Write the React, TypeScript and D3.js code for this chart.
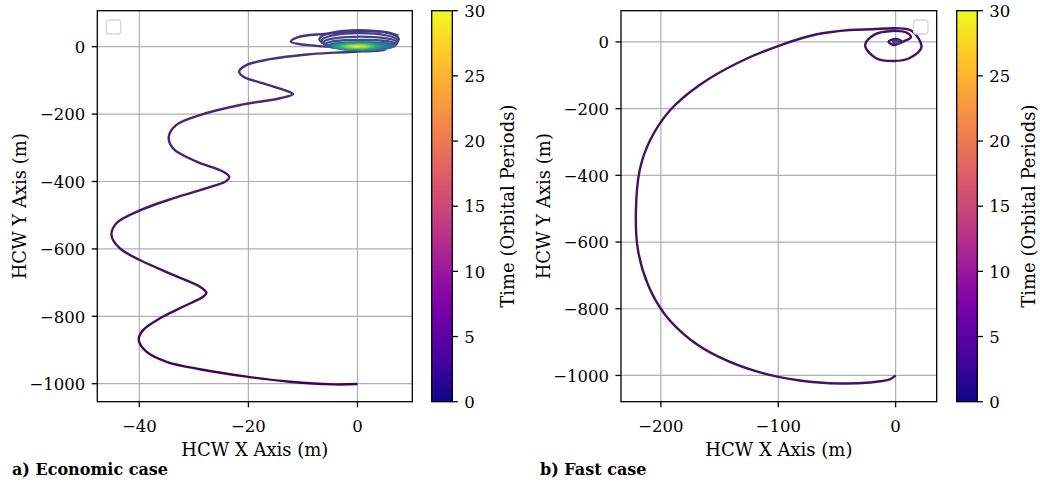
import React from 'react';
import * as d3 from 'd3';

// ---------- data ----------
const econX = [0, -4.4, -12.4, -20.3, -28.9, -35, -38.7, -40.1, -39.3, -36.2, -31.9, -28.3, -27.7, -28.9, -33.8, -39.9, -43.6, -45.1, -44.2, -40.5, -33.8, -27.7, -24, -23.5, -24.6, -29.5, -33.8, -34.6, -33.2, -28.9, -21.5, -14.2, -11.8, -13, -17.3, -20.9, -21.7, -20.3, -16, -9.3, -4, 1, 5, 4.5, -2, -8, -12.2, -11, -6, 0, 5, 7.5];
const econY = [-1001, -1002, -994, -979, -957, -935, -905, -870, -841, -806, -771, -742, -730, -712, -677, -633, -598, -559, -524, -490, -450, -420, -398, -386, -371, -341, -302, -267, -232, -203, -173, -153, -141, -131, -109, -89, -74, -54, -37, -23, -17.5, -14, -10, -5, -3, 3, 15, 28, 38, 45, 44, 33];
// loops around the target
const econLoopCx = [0.3, 0.4, 0.5, 0.6, 0.7];
const econLoopCy = [22, 17, 12, 7, 3];
const econLoopRx = [7.3, 7.0, 6.8, 6.5, 6.2];
const econLoopRy = [27, 23, 18, 13, 10];
const econLoopT = [0.17, 0.19, 0.21, 0.24, 0.3];

const fastX = [0, -5, -22, -47.5, -81.6, -115.6, -149.7, -175, -196.6, -211, -219.6, -221.3, -218, -209, -192, -167, -133, -96, -67, -39, -20, 0, 14, 22, 12, -1, -17, -26, -18, -3, 10, 13, 7, -2, -6, 0, 5, 1];
const fastY = [-1000, -1012, -1021, -1024, -1015, -991, -946, -892, -817, -728, -623, -509, -383, -293, -204, -129, -60, -7, 23, 36, 38, 41, 33, -16, -48, -57, -48, -10, 22, 33, 27, 14, 2, -9, 1, 9, 2, -3];

const xTicksEcon = [-40, -20, 0];
const xTicksFast = [-200, -100, 0];
const yTicks = [0, -200, -400, -600, -800, -1000];
const cbTicks = [0, 5, 10, 15, 20, 25, 30];
const captions = ['a) Economic case', 'b) Fast case'];

// ---------- layout ----------
const TOP = 10.7;
const BOTTOM = 401.7;
const FONT = 'DejaVu Serif';
const GRID = '#b0b0b0';
const txt: React.CSSProperties = { fontFamily: FONT };
const TICK_FS = 16.5;
const LABEL_FS = 18;

const fmt = (v: number) => (v < 0 ? '\u2212' + Math.abs(v) : String(v));

type PanelProps = {
  id: string;
  left: number;
  right: number;
  xDomain: [number, number];
  yDomain: [number, number];
  xTicks: number[];
  children: (x: d3.ScaleLinear<number, number>, y: d3.ScaleLinear<number, number>) => React.ReactNode;
  legendX: number;
  cbLeft: number;
  cbLabelX: number;
  yLabelX: number;
  caption: string;
  captionX: number;
};

function Panel(p: PanelProps) {
  const x = d3.scaleLinear().domain(p.xDomain).range([p.left, p.right]);
  const y = d3.scaleLinear().domain(p.yDomain).range([BOTTOM, TOP]);
  const cb = d3.scaleLinear().domain([0, 30]).range([BOTTOM, TOP]);
  const cbW = 20.6;
  const stops = d3.range(0, 1.0001, 0.05);
  return (
    <g>
      <defs>
        <clipPath id={'clip-' + p.id}>
          <rect x={p.left} y={TOP} width={p.right - p.left} height={BOTTOM - TOP} />
        </clipPath>
        <linearGradient id={'cb-' + p.id} x1="0" y1="1" x2="0" y2="0">
          {stops.map((s) => (
            <stop key={s} offset={s} stopColor={d3.interpolatePlasma(s)} />
          ))}
        </linearGradient>
      </defs>
      {p.xTicks.map((t) => (
        <line key={'gx' + t} x1={x(t)} x2={x(t)} y1={TOP} y2={BOTTOM} stroke={GRID} strokeWidth={1.2} />
      ))}
      {yTicks.map((t) => (
        <line key={'gy' + t} x1={p.left} x2={p.right} y1={y(t)} y2={y(t)} stroke={GRID} strokeWidth={1.2} />
      ))}
      <g clipPath={`url(#clip-${p.id})`}>{p.children(x, y)}</g>
      <rect x={p.legendX} y={20} width={14.5} height={14} rx={3} fill="white" fillOpacity={0.8} stroke="#d6d6d6" strokeWidth={1.3} />
      <rect x={p.left} y={TOP} width={p.right - p.left} height={BOTTOM - TOP} fill="none" stroke="black" strokeWidth={1.3} />
      {p.xTicks.map((t) => (
        <g key={'tx' + t}>
          <line x1={x(t)} x2={x(t)} y1={BOTTOM} y2={BOTTOM + 5.6} stroke="black" strokeWidth={1.3} />
          <text x={x(t)} y={432} textAnchor="middle" fontSize={TICK_FS} style={txt}>{fmt(t)}</text>
        </g>
      ))}
      {yTicks.map((t) => (
        <g key={'ty' + t}>
          <line x1={p.left - 5.6} x2={p.left} y1={y(t)} y2={y(t)} stroke="black" strokeWidth={1.3} />
          <text x={p.left - 12} y={y(t) + 6.2} textAnchor="end" fontSize={TICK_FS} style={txt}>{fmt(t)}</text>
        </g>
      ))}
      <text x={(p.left + p.right) / 2} y={456} textAnchor="middle" fontSize={LABEL_FS} style={txt}>HCW X Axis (m)</text>
      <text transform={`translate(${p.yLabelX},${(TOP + BOTTOM) / 2}) rotate(-90)`} textAnchor="middle" fontSize={LABEL_FS} style={txt}>HCW Y Axis (m)</text>
      <rect x={p.cbLeft} y={TOP} width={cbW} height={BOTTOM - TOP} fill={`url(#cb-${p.id})`} stroke="black" strokeWidth={1.3} />
      {cbTicks.map((t) => (
        <g key={'cb' + t}>
          <line x1={p.cbLeft + cbW} x2={p.cbLeft + cbW + 5.6} y1={cb(t)} y2={cb(t)} stroke="black" strokeWidth={1.3} />
          <text x={p.cbLeft + cbW + 12} y={cb(t) + 6.2} fontSize={TICK_FS} style={txt}>{t}</text>
        </g>
      ))}
      <text transform={`translate(${p.cbLabelX},${(TOP + BOTTOM) / 2}) rotate(-90)`} textAnchor="middle" fontSize={LABEL_FS} style={txt}>Time (Orbital Periods)</text>
      <text x={p.captionX} y={475} fontSize={16} fontWeight="bold" style={txt}>{p.caption}</text>
    </g>
  );
}

export default function App() {
  const econPts = econX.map((v, i) => [v, econY[i]] as [number, number]);
  const fastPts = fastX.map((v, i) => [v, fastY[i]] as [number, number]);
  return (
    <svg width={1040} height={483} style={{ position: 'absolute', left: 0, top: 0, background: 'white' }}>
      <rect width={1040} height={483} fill="white" />
      <Panel
        id="econ"
        left={97.3}
        right={412.3}
        xDomain={[-47.7, 10.05]}
        yDomain={[-1053.4, 106.8]}
        xTicks={xTicksEcon}
        legendX={106.3}
        cbLeft={431.7}
        cbLabelX={514}
        yLabelX={26}
        caption={captions[0]}
        captionX={12}
      >
        {(x, y) => {
          const line = d3.line<[number, number]>().x((d) => x(d[0])).y((d) => y(d[1])).curve(d3.curveCatmullRom.alpha(0.5));
          return (
            <g>
              <defs>
                <linearGradient id="econLine" gradientUnits="userSpaceOnUse" x1="0" y1={y(-1000)} x2="0" y2={y(0)}>
                  <stop offset="0" stopColor={d3.interpolateViridis(0.0)} />
                  <stop offset="0.6" stopColor={d3.interpolateViridis(0.07)} />
                  <stop offset="1" stopColor={d3.interpolateViridis(0.15)} />
                </linearGradient>
                <radialGradient id="blob" cx="0.42" cy="0.5" r="0.5">
                  <stop offset="0" stopColor={d3.interpolateViridis(1)} />
                  <stop offset="0.3" stopColor={d3.interpolateViridis(0.85)} />
                  <stop offset="0.6" stopColor={d3.interpolateViridis(0.6)} />
                  <stop offset="0.85" stopColor={d3.interpolateViridis(0.45)} />
                  <stop offset="1" stopColor={d3.interpolateViridis(0.35)} />
                </radialGradient>
              </defs>
              <path d={line(econPts) || ''} fill="none" stroke="url(#econLine)" strokeWidth={2.4} strokeLinejoin="round" />
              {econLoopCx.map((cx, i) => (
                <ellipse
                  key={i}
                  cx={x(cx)}
                  cy={y(econLoopCy[i])}
                  rx={Math.abs(x(econLoopRx[i]) - x(0))}
                  ry={Math.abs(y(econLoopRy[i]) - y(0))}
                  fill="none"
                  stroke={d3.interpolateViridis(econLoopT[i])}
                  strokeWidth={2.2}
                />
              ))}
              <ellipse cx={x(0.9)} cy={y(1)} rx={Math.abs(x(5.8) - x(0))} ry={Math.abs(y(15) - y(0))} fill="url(#blob)" />
            </g>
          );
        }}
      </Panel>
      <Panel
        id="fast"
        left={621}
        right={936.7}
        xDomain={[-234, 35]}
        yDomain={[-1078.7, 93.7]}
        xTicks={xTicksFast}
        legendX={913.5}
        cbLeft={956.7}
        cbLabelX={1035}
        yLabelX={550}
        caption={captions[1]}
        captionX={540}
      >
        {(x, y) => {
          const line = d3.line<[number, number]>().x((d) => x(d[0])).y((d) => y(d[1])).curve(d3.curveCatmullRom.alpha(0.5));
          return (
            <g>
              <path d={line(fastPts) || ''} fill="none" stroke="#431261" strokeWidth={2.4} strokeLinejoin="round" />
              <ellipse cx={x(0.6)} cy={y(0)} rx={Math.abs(x(3) - x(0))} ry={Math.abs(y(6) - y(0))} fill={d3.interpolateViridis(0.28)} stroke={d3.interpolateViridis(0.15)} strokeWidth={1.5} />
            </g>
          );
        }}
      </Panel>
    </svg>
  );
}
